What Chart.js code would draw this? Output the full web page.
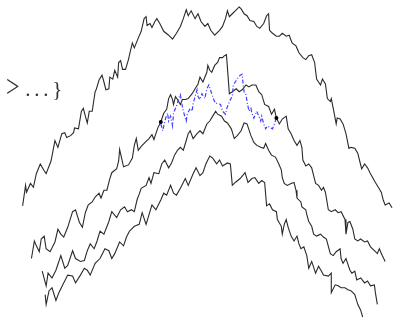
<!DOCTYPE html>
<html>
<head>
<meta charset="utf-8">
<script src="https://cdn.jsdelivr.net/npm/chart.js@4/dist/chart.umd.min.js"></script>
<style>
  html, body { margin: 0; padding: 0; background: #fff; }
  #wrap { position: relative; width: 398px; height: 322px; }
  #c { position: absolute; left: 0; top: 0; }
  #lbl { position: absolute; left: 6px; top: 75px; font-family: "Liberation Serif", "DejaVu Serif", serif; color: #333; white-space: nowrap; }
  #lbl .gt { display: inline-block; font-size: 24px; transform: scaleY(1.35); transform-origin: 50% 70%; }
  #lbl .rest { font-size: 21px; word-spacing: -1.5px; margin-left: 2px; }
</style>
</head>
<body>
<div id="wrap">
  <canvas id="c" width="398" height="322"></canvas>
  <div id="lbl"><span class="gt">&gt;</span><span class="rest"> . . . }</span></div>
</div>
<script>
// Walk 1 (top path)
const walk1X = [19,22,23,27,30,33,37,41,43,48,52,55,59,62,64,68,71,72,76,79,81,83,85,87,90,93,94,97,100,102,104,107,108,111,113,116,117,119,121,124,127,129,131,133,137,140,143,145,146,149,151,154,156,159,163,168,172,176,180,183,186,188,191,195,198,201,205,208,211,215,220,223,226,228,230,233,236,240,242,245,248,251,255,258,261,265,268,270,271,274,278,281,284,288,291,294,298,301,305,308,311,314,317,319,323,325,328,330,333,334,336,339,340,343,346,349,352,354,358,361,363,365,368,371,374,379,382,385,387,389,393,396];
const walk1Y = [207,186,193,184,188,174,164,171,174,161,140,147,133,132,137,135,132,127,128,110,107,115,122,110,110,90,88,78,73,80,88,87,75,77,68,75,60,58,67,67,57,48,40,45,35,28,15,13,22,20,24,18,15,20,28,32,36,30,23,15,6,12,7,15,10,18,23,20,27,32,27,23,15,7,13,10,7,3,5,10,12,17,18,23,25,20,12,10,27,30,33,33,30,33,32,40,43,50,55,57,53,52,60,77,83,77,82,97,100,97,107,123,117,118,123,133,148,147,148,153,161,169,164,168,174,183,188,193,201,206,204,209];

// Walk 2
const walk2X = [28,31,33,36,38,41,43,47,52,55,58,61,65,70,73,77,80,83,86,90,93,97,99,102,105,108,110,115,117,118,120,122,127,131,133,135,137,140,144,148,151,153,155,157,160,163,166,168,170,172,173,175,177,180,182,185,188,192,195,198,200,203,207,208,210,212,215,218,220,223,225,227,230,233,237,240,243,247,250,253,257,260,263,266,270,273,276,278,281,284,288,290,293,296,299,302,304,305,308,311,314,316,318,321,324,326,328,331,334,338,341,344,348,349,351,353,356,358,361,364,368,371,374,378,381,383,386,389];
const walk2Y = [261,243,248,254,241,238,251,254,244,231,236,239,229,213,211,224,229,214,206,203,198,194,199,191,191,179,173,169,161,149,158,167,165,158,145,138,150,146,142,138,134,139,133,127,121,112,108,97,93,98,103,95,98,103,98,98,97,92,87,82,75,80,70,63,68,70,63,60,55,55,53,52,92,90,87,90,88,83,85,83,83,90,93,103,105,113,108,117,123,118,115,128,133,140,145,140,147,160,166,164,168,176,184,186,191,188,193,211,213,211,214,213,221,236,224,223,231,241,243,241,244,243,249,253,256,251,258,264];

// Walk 3
const walk3X = [39,43,45,49,53,58,62,65,70,73,78,82,85,88,92,95,98,102,107,110,115,119,123,126,130,133,136,138,140,145,148,150,153,158,161,164,168,171,174,177,180,183,186,188,190,193,197,200,203,207,210,213,216,218,222,225,228,232,235,238,242,245,248,252,255,258,262,265,267,270,273,277,280,283,284,286,289,293,296,298,299,303,304,308,309,311,314,316,319,323,326,329,333,336,339,343,344,346,349,353,355,358,360,364,368,371,374,378,379,381];
const walk3Y = [274,289,276,281,273,258,271,268,253,261,264,263,253,246,251,243,233,236,223,213,219,211,208,213,211,213,200,195,189,186,178,184,173,174,164,160,168,163,155,150,147,150,140,133,130,138,133,130,133,123,120,115,110,113,115,120,122,128,138,135,130,122,123,135,142,145,147,148,143,150,155,157,163,170,178,184,186,184,183,191,199,203,208,211,216,223,228,236,238,236,239,241,256,258,254,251,261,266,261,273,276,274,283,281,286,284,289,288,296,308];

// Walk 4 (lowest path)
const walk4X = [42,43,46,49,53,56,60,65,70,73,78,82,85,88,93,98,103,107,110,113,118,122,125,128,133,138,141,145,148,151,155,160,163,166,170,173,176,180,185,188,193,196,200,203,206,208,210,213,217,220,223,228,231,233,236,241,246,249,253,256,260,263,266,268,271,274,278,279,283,284,286,288,290,293,296,299,301,303,306,309,311,314,318,321,324,326,331,334,334,338,341,344,348,351,354,358,361,364,366];
const walk4Y = [298,308,294,291,304,296,288,278,279,286,278,271,273,278,266,261,251,253,261,256,244,248,239,233,228,226,214,226,216,206,211,201,194,196,186,194,196,189,179,186,174,168,176,173,164,160,156,158,164,160,166,163,164,186,183,179,173,183,179,178,184,181,183,207,205,211,213,221,228,236,226,221,229,238,243,238,246,251,249,258,271,264,276,269,274,278,279,276,296,288,289,291,291,293,294,298,308,314,321];

// Highlighted sub-path (blue, dotted)
const subX = [160,162,163,165,167,168,170,172,173,175,177,178,180,182,183,186,187,190,192,193,195,197,198,200,202,205,207,209,212,214,216,218,221,223,226,227,229,231,233,234,236,238,241,243,244,245,247,248,250,252,253,255,257,258,260,262,263,265,267,269,272,274,276,278];
const subY = [123,130,125,117,112,120,115,125,112,107,102,97,93,105,110,120,113,107,110,102,95,88,95,98,92,97,87,83,92,98,102,102,103,110,113,108,103,98,95,83,80,77,73,72,82,90,93,100,110,107,112,117,112,110,115,120,115,123,128,125,127,128,123,117];

// Endpoints of the highlighted sub-path
const markX = [160,278];
const markY = [121,117];

const pts = (xs, ys) => xs.map((x, i) => ({ x: x, y: ys[i] }));

const lineStyle = { showLine: true, borderColor: '#2a2a2a', borderWidth: 1.1, pointRadius: 0, tension: 0, fill: false };

new Chart(document.getElementById('c'), {
  type: 'scatter',
  data: {
    datasets: [
      { data: pts(markX, markY), showLine: false, pointRadius: 2, pointBackgroundColor: '#000', pointBorderColor: '#000', pointBorderWidth: 0 },
      { data: pts(subX, subY), showLine: true, borderColor: '#4040ff', borderWidth: 1.2, borderDash: [4, 2, 1, 2], pointRadius: 0, tension: 0, fill: false },
      Object.assign({ data: pts(walk1X, walk1Y) }, lineStyle),
      Object.assign({ data: pts(walk2X, walk2Y) }, lineStyle),
      Object.assign({ data: pts(walk3X, walk3Y) }, lineStyle),
      Object.assign({ data: pts(walk4X, walk4Y) }, lineStyle)
    ]
  },
  options: {
    responsive: false,
    animation: false,
    events: [],
    layout: { padding: 0 },
    plugins: { legend: { display: false }, tooltip: { enabled: false } },
    scales: {
      x: { type: 'linear', min: 0, max: 398, display: false },
      y: { type: 'linear', min: 0, max: 322, reverse: true, display: false }
    }
  }
});
</script>
</body>
</html>
